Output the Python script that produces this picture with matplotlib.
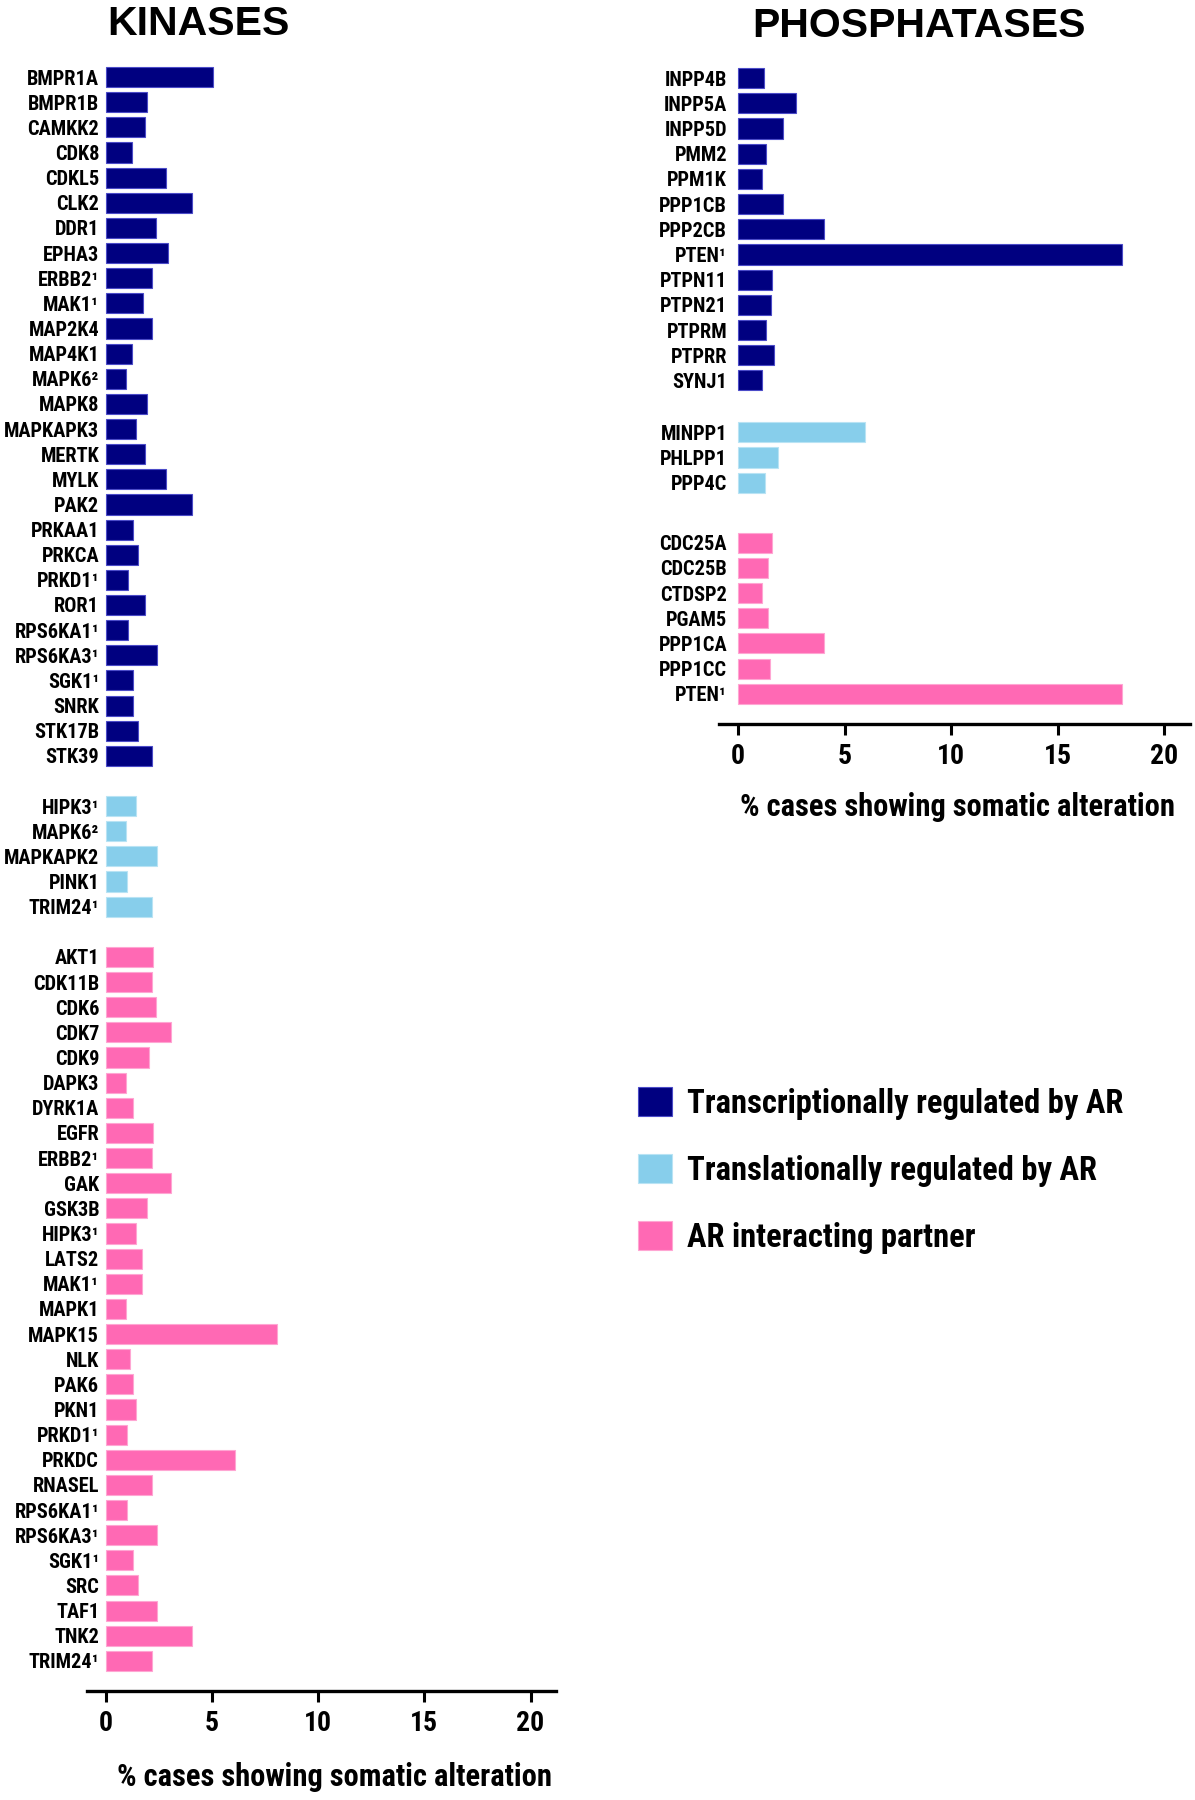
import numpy as np
import matplotlib
matplotlib.use("Agg")
import matplotlib.pyplot as plt
from matplotlib.patches import Patch

plt.rcParams["font.family"] = ["Roboto Condensed", "Liberation Sans", "DejaVu Sans"]
plt.rcParams["font.weight"] = "bold"

NAVY = "#000080"
SKY = "#87CEEB"
PINK = "#FF69B4"
EDGES = {NAVY: "#4b4bc8", SKY: "#b9e3f4", PINK: "#ffa6d3"}

# ---- kinases ----
kin_tr_genes = ["BMPR1A", "BMPR1B", "CAMKK2", "CDK8", "CDKL5", "CLK2", "DDR1", "EPHA3",
                "ERBB2¹", "MAK1¹", "MAP2K4", "MAP4K1", "MAPK6²", "MAPK8", "MAPKAPK3", "MERTK",
                "MYLK", "PAK2", "PRKAA1", "PRKCA", "PRKD1¹", "ROR1", "RPS6KA1¹", "RPS6KA3¹",
                "SGK1¹", "SNRK", "STK17B", "STK39"]
kin_tr_vals = [5.05, 1.92, 1.81, 1.22, 2.83, 4.07, 2.34, 2.93,
               2.14, 1.72, 2.14, 1.22, 0.92, 1.92, 1.41, 1.81,
               2.83, 4.07, 1.29, 1.49, 1.02, 1.81, 1.02, 2.39,
               1.29, 1.29, 1.49, 2.14]

kin_tl_genes = ["HIPK3¹", "MAPK6²", "MAPKAPK2", "PINK1", "TRIM24¹"]
kin_tl_vals = [1.39, 0.92, 2.39, 1.0, 2.14]

kin_ip_genes = ["AKT1", "CDK11B", "CDK6", "CDK7", "CDK9", "DAPK3", "DYRK1A", "EGFR",
                "ERBB2¹", "GAK", "GSK3B", "HIPK3¹", "LATS2", "MAK1¹", "MAPK1", "MAPK15",
                "NLK", "PAK6", "PKN1", "PRKD1¹", "PRKDC", "RNASEL", "RPS6KA1¹", "RPS6KA3¹",
                "SGK1¹", "SRC", "TAF1", "TNK2", "TRIM24¹"]
kin_ip_vals = [2.23, 2.14, 2.33, 3.05, 2.03, 0.94, 1.29, 2.23,
               2.14, 3.05, 1.92, 1.41, 1.71, 1.71, 0.94, 8.07,
               1.14, 1.29, 1.41, 1.0, 6.06, 2.14, 1.0, 2.39,
               1.29, 1.51, 2.39, 4.05, 2.14]

# ---- phosphatases ----
ph_tr_genes = ["INPP4B", "INPP5A", "INPP5D", "PMM2", "PPM1K", "PPP1CB", "PPP2CB", "PTEN¹",
               "PTPN11", "PTPN21", "PTPRM", "PTPRR", "SYNJ1"]
ph_tr_vals = [1.21, 2.69, 2.12, 1.32, 1.1, 2.12, 4.02, 18.0, 1.6, 1.53, 1.32, 1.69, 1.1]

ph_tl_genes = ["MINPP1", "PHLPP1", "PPP4C"]
ph_tl_vals = [5.97, 1.87, 1.28]

ph_ip_genes = ["CDC25A", "CDC25B", "CTDSP2", "PGAM5", "PPP1CA", "PPP1CC", "PTEN¹"]
ph_ip_vals = [1.6, 1.42, 1.1, 1.42, 4.02, 1.51, 18.0]

legend_labels = ["Transcriptionally regulated by AR",
                 "Translationally regulated by AR",
                 "AR interacting partner"]
xticks = [0, 5, 10, 15, 20]
xlabel = "% cases showing somatic alteration"


def draw_panel(ax, groups, gaps, pad, label_xy):
    pos = 0.0
    ticks, names = [], []
    for i, (genes, vals, color) in enumerate(groups):
        if i > 0:
            pos += gaps[i - 1] - 1
        y = pos + np.arange(len(genes))
        ax.barh(y, vals, height=0.8, color=color, edgecolor=EDGES[color], linewidth=0.8)
        ticks.extend(y)
        names.extend(genes)
        pos = y[-1] + 1
    last = ticks[-1]
    ax.set_yticks(ticks, names)
    ax.set_ylim(last + 1.2, -0.6)
    ax.set_xlim(-0.9, 21.2)
    ax.set_xticks(xticks)
    for s in ["top", "right"]:
        ax.spines[s].set_visible(False)
    ax.spines["left"].set_position(("data", 0))
    ax.spines["left"].set_visible(False)
    ax.spines["bottom"].set_linewidth(2.4)
    ax.tick_params(axis="y", length=0, pad=pad, labelsize=14.7)
    ax.tick_params(axis="x", length=8, width=2.2, pad=6, labelsize=20, direction="out")
    ax.set_xlabel(xlabel, fontsize=22, fontweight="bold")
    ax.xaxis.label.set_va("center")
    ax.xaxis.set_label_coords(*label_xy)


fig = plt.figure(figsize=(11.95, 18.0), dpi=100)

ax_k = fig.add_axes([87 / 1195, 1 - 1691 / 1800, 469 / 1195, 1629 / 1800])
draw_panel(ax_k,
           [(kin_tr_genes, kin_tr_vals, NAVY),
            (kin_tl_genes, kin_tl_vals, SKY),
            (kin_ip_genes, kin_ip_vals, PINK)],
           [2, 2], 5, (0.527, -0.0528))

ax_p = fig.add_axes([719 / 1195, 1 - 724 / 1800, 471 / 1195, 661 / 1800])
draw_panel(ax_p,
           [(ph_tr_genes, ph_tr_vals, NAVY),
            (ph_tl_genes, ph_tl_vals, SKY),
            (ph_ip_genes, ph_ip_vals, PINK)],
           [2.06, 2.38], 8, (0.507, -0.1256))

fig.text(198 / 1195, 1 - 24 / 1800, "KINASES", ha="center", va="center",
         fontsize=29.5, fontweight="bold", family=["Liberation Sans", "DejaVu Sans"])
fig.text(919 / 1195, 1 - 26 / 1800, "PHOSPHATASES", ha="center", va="center",
         fontsize=29.5, fontweight="bold", family=["Liberation Sans", "DejaVu Sans"])

handles = [Patch(facecolor=c, edgecolor=EDGES[c], linewidth=0.8) for c in (NAVY, SKY, PINK)]
fig.legend(handles, legend_labels, loc="upper left", bbox_to_anchor=(638 / 1195, 1 - 1087 / 1800),
           frameon=False, fontsize=23.5, handlelength=1.05, handleheight=1.0,
           handletextpad=0.45, labelspacing=1.05, borderpad=0, borderaxespad=0)

fig.savefig("out.png", dpi=100)
